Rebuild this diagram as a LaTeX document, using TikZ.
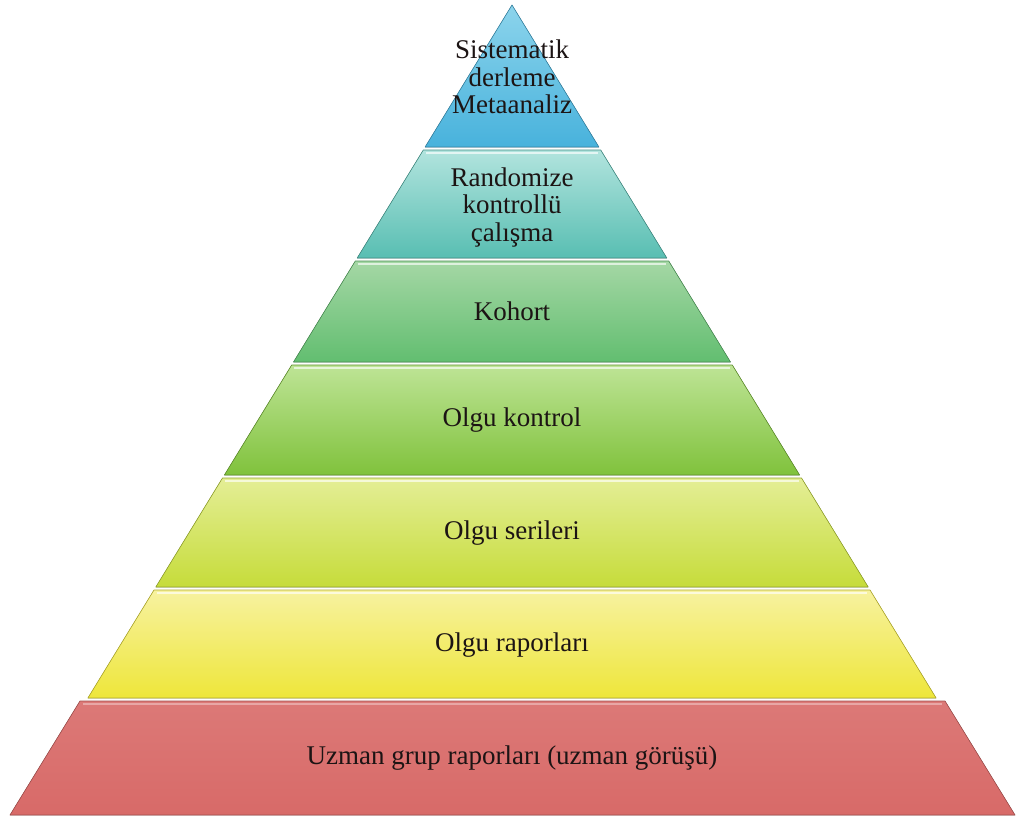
\documentclass[tikz,border=0pt]{standalone}
\usepackage{fontspec}
\setmainfont{Liberation Serif}
\usepackage{xcolor}
\definecolor{metatop}{RGB}{140,212,236}
\definecolor{metabot}{RGB}{72,178,220}
\definecolor{rcttop}{RGB}{178,228,222}
\definecolor{rctbot}{RGB}{88,190,178}
\definecolor{kohorttop}{RGB}{165,215,165}
\definecolor{kohortbot}{RGB}{98,190,112}
\definecolor{kontroltop}{RGB}{190,228,150}
\definecolor{kontrolbot}{RGB}{128,194,60}
\definecolor{serilertop}{RGB}{228,238,150}
\definecolor{serilerbot}{RGB}{198,220,58}
\definecolor{raportop}{RGB}{247,242,160}
\definecolor{raporbot}{RGB}{238,230,58}
\definecolor{uzmanred}{RGB}{216,106,104}
\definecolor{textdark}{RGB}{28,20,20}
\tikzset{
  layer/.style 2 args={
    draw=#2!75!black, line width=0.6pt, line join=round,
    top color=#1, bottom color=#2
  },
  gloss/.style={draw=white, opacity=0.65, line width=2pt},
  lvltext/.style={
    font=\fontsize{27}{27.5}\selectfont, text=textdark, align=center
  }
}

\begin{document}
\begin{tikzpicture}[x=1pt, y=-1pt]
    \useasboundingbox (0,0) rectangle (1024,823);
    \fill[white] (0,0) rectangle (1024,823);

    % Sistematik derleme
    \filldraw[layer={metatop}{metabot}]
      (512,5) -- (598.9,147) -- (425.1,147) -- cycle;
    \node[lvltext] (meta) at (512,77) {Sistematik\\derleme\\Metaanaliz};

    % Randomize kontrollu
    \filldraw[layer={rcttop}{rctbot}]
      (423.3,150) -- (600.7,150) -- (666.8,258) -- (357.2,258) -- cycle;
    \draw[gloss] (426,152.5) -- (598,152.5);
    \node[lvltext] (rct) at (512,207) {Randomize\\kontrollü\\çalışma};

    % Kohort
    \filldraw[layer={kohorttop}{kohortbot}]
      (355.3,261) -- (668.7,261) -- (730.5,362) -- (293.5,362) -- cycle;
    \draw[gloss] (358,263.5) -- (666,263.5);
    \node[lvltext] (kohort) at (512,311) {Kohort};

    % Olgu kontrol
    \filldraw[layer={kontroltop}{kontrolbot}]
      (291.7,365) -- (732.3,365) -- (799.6,475) -- (224.4,475) -- cycle;
    \draw[gloss] (294,367.5) -- (730,367.5);
    \node[lvltext] (kontrol) at (512,420) {Olgu kontrol};

    % Olgu serileri
    \filldraw[layer={serilertop}{serilerbot}]
      (222.5,478) -- (801.5,478) -- (868.2,587) -- (155.8,587) -- cycle;
    \draw[gloss] (225,480.5) -- (799,480.5);
    \node[lvltext] (seriler) at (512,533) {Olgu serileri};

    % Olgu raporlari
    \filldraw[layer={raportop}{raporbot}]
      (154,590) -- (870,590) -- (936.1,698) -- (87.9,698) -- cycle;
    \draw[gloss] (157,592.5) -- (867,592.5);
    \node[lvltext] (rapor) at (512,645) {Olgu raporları};

    % Uzman gorusu
    \filldraw[layer={uzmanred!90!white}{uzmanred}]
      (80,701) -- (945,701) -- (1015,815) -- (10,815) -- cycle;
    \draw[gloss, opacity=0.35] (83,703.5) -- (942,703.5);
    \node[lvltext] (uzman) at (512,758) {Uzman grup raporları (uzman görüşü)};
  \end{tikzpicture}
\end{document}
